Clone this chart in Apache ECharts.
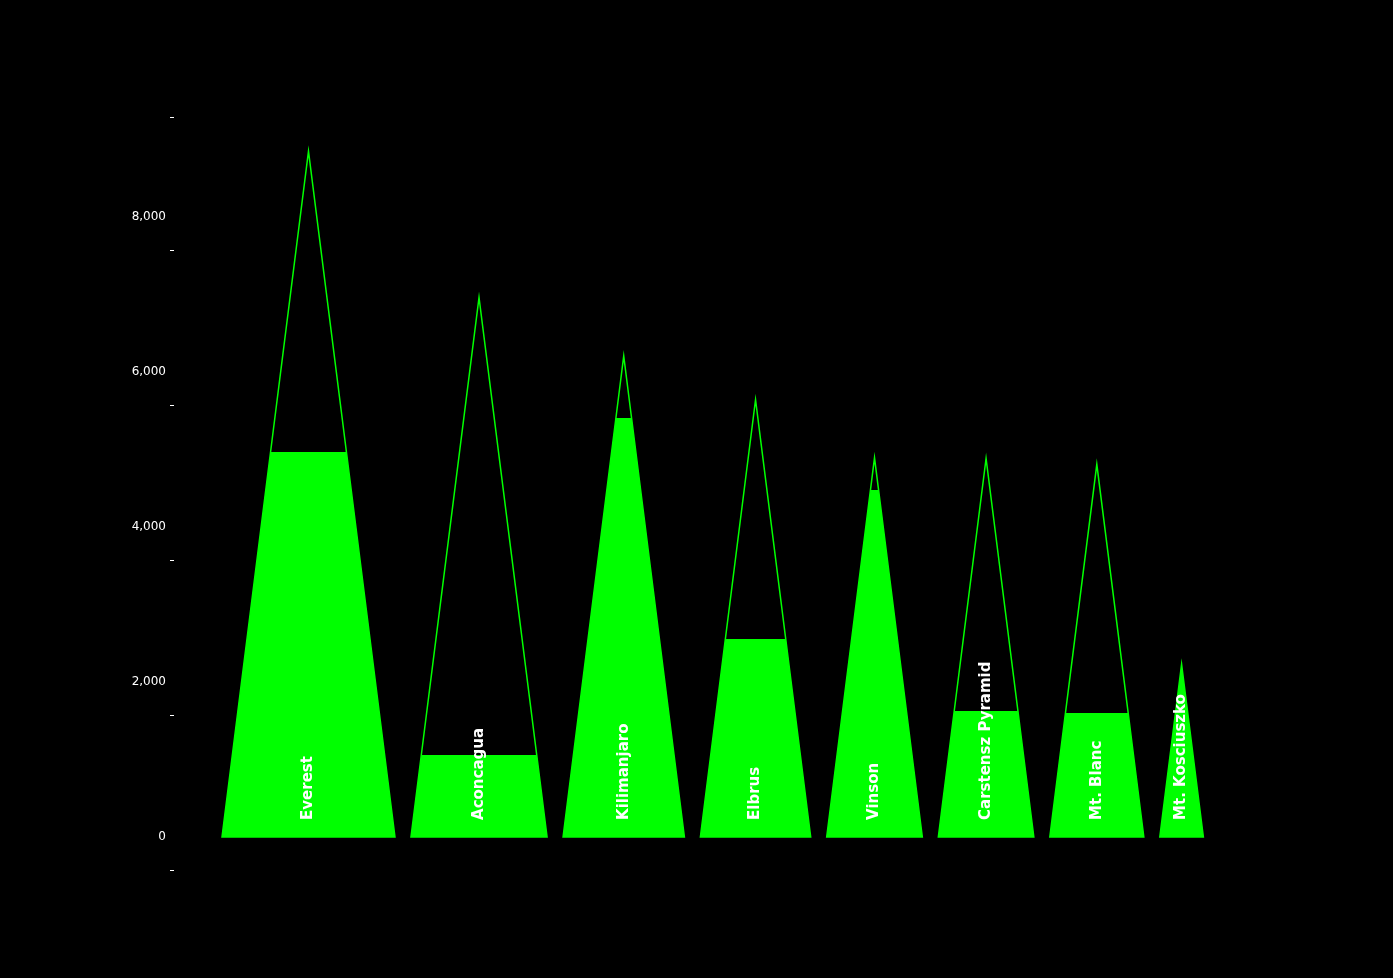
<!DOCTYPE html>
<html><head><meta charset="utf-8">
<script src="https://cdn.jsdelivr.net/npm/echarts@6/dist/echarts.min.js"></script>
<style>html,body{margin:0;background:#000}#c{width:1393px;height:978px}</style>
</head><body><div id="c"></div>
<script>
const names = ['Everest','Aconcagua','Kilimanjaro','Elbrus','Vinson','Carstensz Pyramid','Mt. Blanc','Mt. Kosciuszko'];
const heights = [8848, 6961, 6206, 5642, 4892, 4884, 4808, 2228];
const fills = [4968, 1058, 5406, 2555, 4477, 1626, 1600, 2228];
const yTicks = [0, 2000, 4000, 6000, 8000];

const widthPerMeter = 0.01955, gap = 16, start = 48;
const lefts = [];
let acc = start;
heights.forEach(h => { lefts.push(acc); acc += h * widthPerMeter + gap; });

const data = names.map((n, i) => [i, heights[i], fills[i]]);
const chart = echarts.init(document.getElementById('c'));
chart.setOption({
  backgroundColor: '#000',
  animation: false,
  grid: {left: 174, right: 139, top: 117, bottom: 108},
  xAxis: {type: 'value', min: 0, max: 1080, show: false},
  yAxis: {type: 'value', min: -426, max: 9290, interval: 2000,
    axisLine: {show: false}, splitLine: {show: false},
    axisTick: {show: true, length: 4, lineStyle: {color: '#fff'}},
    axisLabel: {color: '#fff', fontSize: 12, fontFamily: 'DejaVu Sans', margin: 8,
      customValues: yTicks},
    customValues: yTicks
  },
  series: [{
    type: 'custom',
    data: data,
    renderItem: function (params, api) {
      const i = api.value(0), h = api.value(1), f = api.value(2);
      const w = h * widthPerMeter;
      const x0 = lefts[i], x1 = x0 + w, xm = x0 + w / 2;
      const pL = api.coord([x0, 0]), pR = api.coord([x1, 0]), pT = api.coord([xm, h]);
      const ratio = f / h;
      const fl = api.coord([x0 + (w / 2) * ratio, f]), fr = api.coord([x1 - (w / 2) * ratio, f]);
      const fillPts = ratio >= 1 ? [pL, pR, pT] : [pL, pR, fr, fl];
      const base = api.coord([xm, 220]);
      return {type: 'group', children: [
        {type: 'polygon', shape: {points: fillPts}, style: {fill: '#00ff00'}},
        {type: 'polygon', shape: {points: [pL, pR, pT]}, style: {fill: 'none', stroke: '#00ff00', lineWidth: 1.5}},
        {type: 'text', x: base[0], y: base[1], rotation: Math.PI / 2,
          style: {text: names[i], fill: '#fff', font: 'bold 15px "DejaVu Sans"', align: 'left', verticalAlign: 'middle'}}
      ]};
    }
  }]
});
</script></body></html>
